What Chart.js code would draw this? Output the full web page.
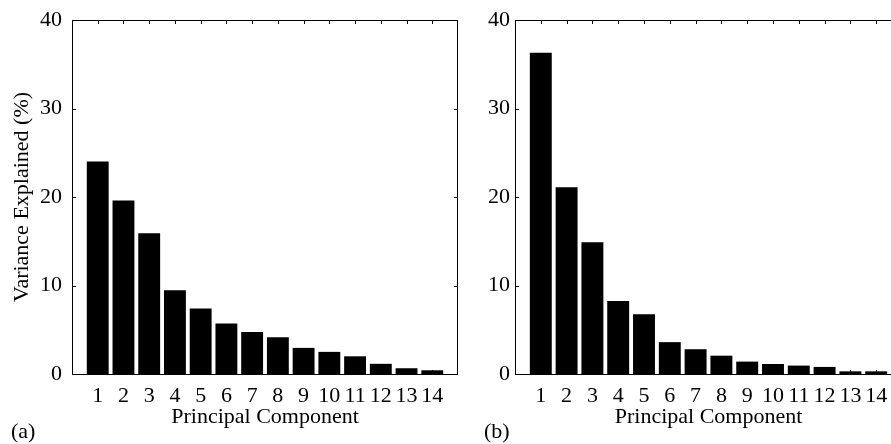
<!DOCTYPE html>
<html>
<head>
<meta charset="utf-8">
<script src="https://cdn.jsdelivr.net/npm/chart.js@4.4.1/dist/chart.umd.min.js"></script>
<style>
html, body { margin: 0; padding: 0; background: #fff; overflow: hidden; width: 891px; height: 444px; }
.panel { position: absolute; top: 0; height: 444px; }
#pa { left: 0; width: 470px; }
#pb { left: 470px; width: 450px; }
.lbl { position: absolute; font-family: "Liberation Serif", serif; font-size: 22px; color: #000; line-height: 1; }
</style>
</head>
<body>
<div class="panel" id="pa"><canvas id="chartA"></canvas></div>
<div class="panel" id="pb"><canvas id="chartB"></canvas></div>
<div class="lbl" style="left:11px;top:420px">(a)</div>
<div class="lbl" style="left:484px;top:420px">(b)</div>
<script>
// datos
const components = [1, 2, 3, 4, 5, 6, 7, 8, 9, 10, 11, 12, 13, 14];
const varianceA = [24.0, 19.6, 15.9, 9.45, 7.4, 5.7, 4.75, 4.15, 2.95, 2.5, 2.0, 1.15, 0.65, 0.42];
const varianceB = [36.3, 21.1, 14.9, 8.25, 6.75, 3.6, 2.8, 2.07, 1.4, 1.13, 0.95, 0.8, 0.3, 0.3];
const yTicks = [0, 10, 20, 30, 40];

Chart.defaults.font.family = '"Liberation Serif", serif';
Chart.defaults.font.size = 22;
Chart.defaults.color = '#000';

// caja y marcas hacia dentro (estilo matlab)
const boxTicks = {
    id: 'boxTicks',
    afterDraw(chart) {
        const { ctx, chartArea: a, scales: { x, y } } = chart;
        const t = 4;
        ctx.save();
        ctx.strokeStyle = '#000';
        ctx.lineWidth = 1;
        ctx.strokeRect(a.left + 0.5, a.top + 0.5, a.right - a.left - 1, a.bottom - a.top);
        ctx.beginPath();
        components.forEach(c => {
            const px = Math.round(x.getPixelForValue(c)) + 0.5;
            ctx.moveTo(px, a.top); ctx.lineTo(px, a.top + t);
            ctx.moveTo(px, a.bottom); ctx.lineTo(px, a.bottom - t);
        });
        yTicks.forEach(v => {
            const py = Math.round(y.getPixelForValue(v)) + 0.5;
            ctx.moveTo(a.left, py); ctx.lineTo(a.left + t, py);
            ctx.moveTo(a.right, py); ctx.lineTo(a.right - t, py);
        });
        ctx.stroke();
        ctx.restore();
    }
};

function crearGrafico(id, valores, yWidth, yPad, rightPad, conTitulo) {
    return new Chart(document.getElementById(id), {
        type: 'bar',
        data: {
            datasets: [{
                data: components.map((c, i) => ({ x: c, y: valores[i] })),
                backgroundColor: '#000',
                borderWidth: 0,
                barPercentage: 0.85,
                categoryPercentage: 1
            }]
        },
        options: {
            responsive: true,
            maintainAspectRatio: false,
            animation: false,
            layout: { padding: { top: 20, right: rightPad, left: 0, bottom: 0 } },
            plugins: { legend: { display: false }, tooltip: { enabled: false } },
            scales: {
                x: {
                    type: 'linear',
                    min: 0, max: 15,
                    offset: false,
                    grid: { display: false, drawTicks: false, offset: false },
                    border: { display: false },
                    ticks: {
                        stepSize: 1, autoSkip: false, maxRotation: 0, padding: 9,
                        callback: v => components.includes(v) ? String(v) : null
                    },
                    title: { display: true, text: 'Principal Component', padding: { top: 0, bottom: 14 } },
                    afterFit: s => { s.height = 70; }
                },
                y: {
                    min: 0, max: 40,
                    grid: { display: false, drawTicks: false },
                    border: { display: false },
                    ticks: { stepSize: 10, padding: yPad },
                    title: { display: conTitulo, text: 'Variance Explained (%)', padding: { top: 9, bottom: 0 } },
                    afterFit: s => { s.width = yWidth; s.paddingTop = 0; s.paddingBottom = 0; }
                }
            }
        },
        plugins: [boxTicks]
    });
}

crearGrafico('chartA', varianceA, 72, 10, 12, true);
crearGrafico('chartB', varianceB, 45, 5, 18, false);
</script>
</body>
</html>
